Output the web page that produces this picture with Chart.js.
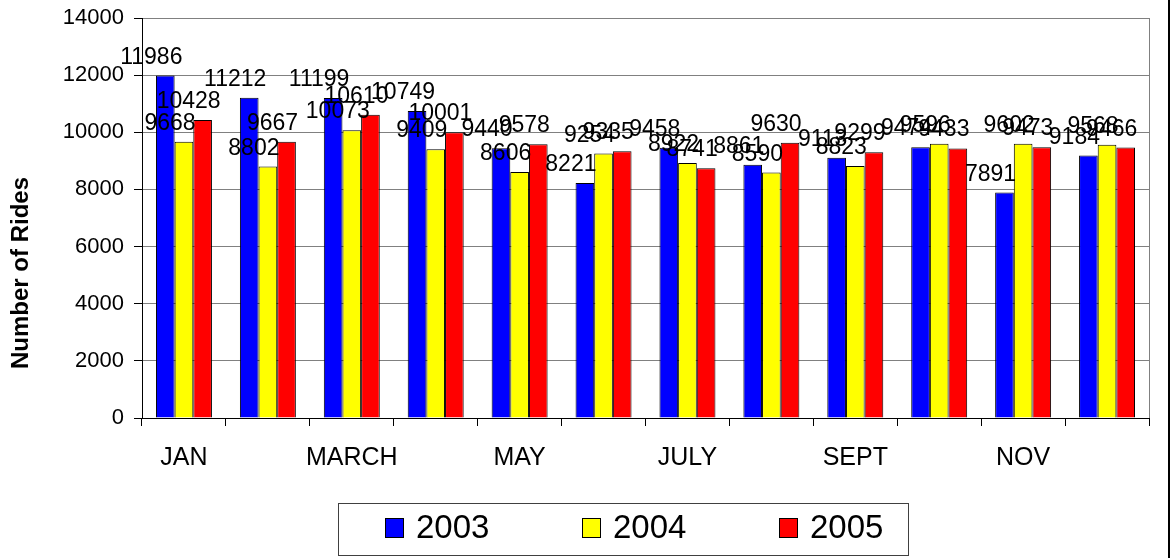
<!DOCTYPE html>
<html>
<head>
<meta charset="utf-8">
<script src="https://cdn.jsdelivr.net/npm/chart.js@4.4.1/dist/chart.umd.min.js"></script>
<style>
  html, body { margin: 0; padding: 0; background: #fff; }
  canvas { display: block; }
</style>
</head>
<body>
<canvas id="ridesChart" width="1171" height="558"></canvas>
<script>
const months = ["JAN", "FEB", "MARCH", "APRIL", "MAY", "JUNE", "JULY", "AUG", "SEPT", "OCT", "NOV", "DEC"];
const years = ["2003", "2004", "2005"];
const rides2003 = [11986, 11212, 11199, 10749, 9440, 8221, 9458, 8861, 9113, 9474, 7891, 9184];
const rides2004 = [9668, 8802, 10073, 9409, 8606, 9254, 8922, 8590, 8823, 9596, 9602, 9568];
const rides2005 = [10428, 9667, 10610, 10001, 9578, 9335, 8741, 9630, 9299, 9433, 9473, 9466];
const yTicks = [0, 2000, 4000, 6000, 8000, 10000, 12000, 14000];

const FONT = "'Liberation Sans', Arial, sans-serif";

// value labels, plot frame, axis title and boxed legend
const chartExtras = {
  id: "chartExtras",
  afterDatasetsDraw(chart) {
    const ctx = chart.ctx;
    ctx.save();
    ctx.font = "23px " + FONT;
    ctx.fillStyle = "#000";
    ctx.textAlign = "center";
    ctx.textBaseline = "alphabetic";
    chart.data.datasets.forEach((ds, i) => {
      chart.getDatasetMeta(i).data.forEach((bar, j) => {
        ctx.fillText(String(ds.data[j]), bar.x - 14, bar.y - 12);
      });
    });
    ctx.restore();
  },
  afterDraw(chart) {
    const ctx = chart.ctx;
    const a = chart.chartArea;
    ctx.save();

    // grey right edge of the plot area
    ctx.strokeStyle = "#808080";
    ctx.lineWidth = 1;
    ctx.beginPath();
    ctx.moveTo(Math.round(a.right) + 0.5, a.top);
    ctx.lineTo(Math.round(a.right) + 0.5, a.bottom);
    ctx.stroke();

    // outer chart border (only the right side is in frame)
    ctx.strokeStyle = "#000";
    ctx.lineWidth = 2;
    ctx.beginPath();
    ctx.moveTo(chart.width - 2, 0);
    ctx.lineTo(chart.width - 2, chart.height);
    ctx.stroke();

    // y axis title
    ctx.fillStyle = "#000";
    ctx.font = "bold 24px " + FONT;
    ctx.textAlign = "center";
    ctx.textBaseline = "middle";
    ctx.translate(21, 273);
    ctx.rotate(-Math.PI / 2);
    ctx.fillText("Number of Rides", 0, 0);
    ctx.setTransform(1, 0, 0, 1, 0, 0);

    // legend
    const box = { left: 338, top: 503, width: 570, height: 52 };
    ctx.strokeStyle = "#404040";
    ctx.lineWidth = 1;
    ctx.strokeRect(box.left + 0.5, box.top + 0.5, box.width, box.height);
    ctx.font = "33px " + FONT;
    ctx.textAlign = "left";
    ctx.textBaseline = "middle";
    chart.data.datasets.forEach((ds, i) => {
      const x = 385 + i * 197;
      ctx.fillStyle = ds.backgroundColor;
      ctx.fillRect(x, 518, 18, 19);
      ctx.strokeStyle = "#000";
      ctx.strokeRect(x + 0.5, 518.5, 18, 19);
      ctx.fillStyle = "#000";
      ctx.fillText(ds.label, x + 31, 529);
    });
    ctx.restore();
  }
};

new Chart(document.getElementById("ridesChart"), {
  type: "bar",
  data: {
    labels: months,
    datasets: [
      { label: years[0], data: rides2003, backgroundColor: "#0000FF" },
      { label: years[1], data: rides2004, backgroundColor: "#FFFF00" },
      { label: years[2], data: rides2005, backgroundColor: "#FF0000" }
    ].map(ds => Object.assign(ds, {
      borderColor: "#000",
      borderWidth: 1,
      categoryPercentage: 0.667,
      barPercentage: 1.0
    }))
  },
  options: {
    responsive: false,
    animation: false,
    devicePixelRatio: 1,
    layout: { padding: { left: 0, right: 22, top: 18, bottom: 0 } },
    plugins: {
      legend: { display: false },
      title: { display: false },
      tooltip: { enabled: false }
    },
    scales: {
      x: {
        grid: {
          display: true,
          drawOnChartArea: false,
          offset: true,
          color: "#000",
          tickColor: "#000",
          tickLength: 8
        },
        border: { color: "#000", width: 1 },
        ticks: {
          autoSkip: false,
          maxRotation: 0,
          padding: 17,
          color: "#000",
          font: { family: FONT, size: 25 },
          callback(value, index) { return index % 2 === 0 ? months[index] : ""; }
        },
        afterFit(scale) { scale.height = 140; }
      },
      y: {
        min: yTicks[0],
        max: yTicks[yTicks.length - 1],
        grid: {
          color: "#808080",
          tickColor: "#000",
          tickLength: 8
        },
        border: { color: "#000", width: 1 },
        ticks: {
          stepSize: yTicks[1] - yTicks[0],
          padding: 10,
          color: "#000",
          font: { family: FONT, size: 22 },
          callback(value) { return String(value); }
        },
        afterFit(scale) {
          scale.width = 142;
          scale.paddingTop = 0;
          scale.paddingBottom = 0;
        }
      }
    }
  },
  plugins: [chartExtras]
});
</script>
</body>
</html>
